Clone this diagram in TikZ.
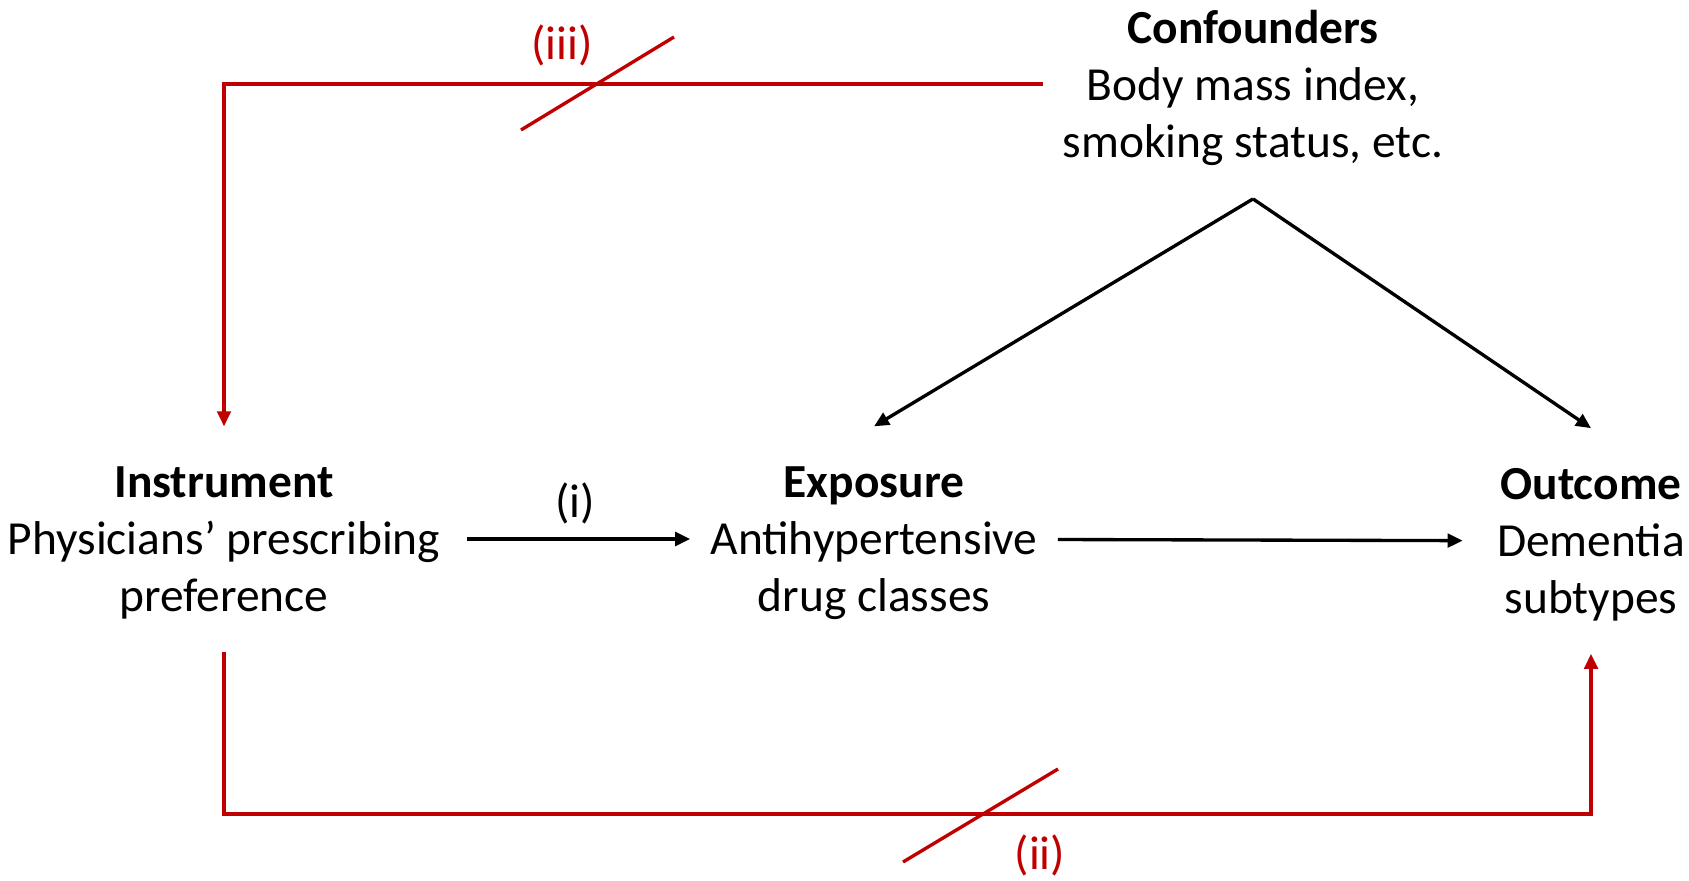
\documentclass[tikz,border=0pt]{standalone}
\usepackage{fontspec}
\setmainfont{Carlito}
\usepackage{tikz}
\usetikzlibrary{arrows.meta, positioning, calc}
\definecolor{violated}{RGB}{192,0,0}

\begin{document}
\begin{tikzpicture}[x=0.02cm, y=-0.02cm,
    var/.style={align=center, inner xsep=0.4cm, inner ysep=0.8cm, text depth=0pt,
      font=\fontsize{27}{32.4}\selectfont},
    lbl/.style={font=\fontsize{27}{32.4}\selectfont},
    arr/.style={line width=1.9pt, -{Triangle[length=0.3cm, width=0.27cm]}},
    ban/.style={arr, violated},
    slash/.style={line width=1.9pt, violated}]
  \useasboundingbox (0,0) rectangle (1689,881);
  % variables
  \node[var] (inst) at (224,539) {\textbf{Instrument}\\Physicians’ prescribing\\preference};
  \node[var] (expo) at (874,539) {\textbf{Exposure}\\Antihypertensive\\drug classes};
  \node[var] (outc) at (1591,541) {\textbf{Outcome}\\Dementia\\subtypes};
  \node[var] (conf) at (1253,84) {\textbf{Confounders}\\Body mass index,\\smoking status, etc.};
  \coordinate[below=0.02cm of conf.south] (apex);
  \coordinate (rail) at (0,814);
  % causal paths
  \draw[arr, shorten <=0.14cm] (inst) -- node[lbl, above=0.15cm] (lab1) {(i)} (expo);
  \draw[arr, shorten >=0.28cm] (expo) -- (outc);
  \draw[arr] (apex) -- (expo.north);
  \draw[arr] (apex) -- (outc.north);
  % excluded paths
  \draw[ban] (conf.west) -| (inst.north);
  \draw[ban] (inst.south) -- (inst.south |- rail) -- (outc.south |- rail) -- (outc.south);
  \draw[slash] (521,130) -- (674,37);
  \node[lbl, violated] (lab3) at (562,45) {(iii)};
  \draw[slash] (903,862) -- (1058,769);
  \node[lbl, violated] (lab2) at (1040,855) {(ii)};
\end{tikzpicture}
\end{document}
